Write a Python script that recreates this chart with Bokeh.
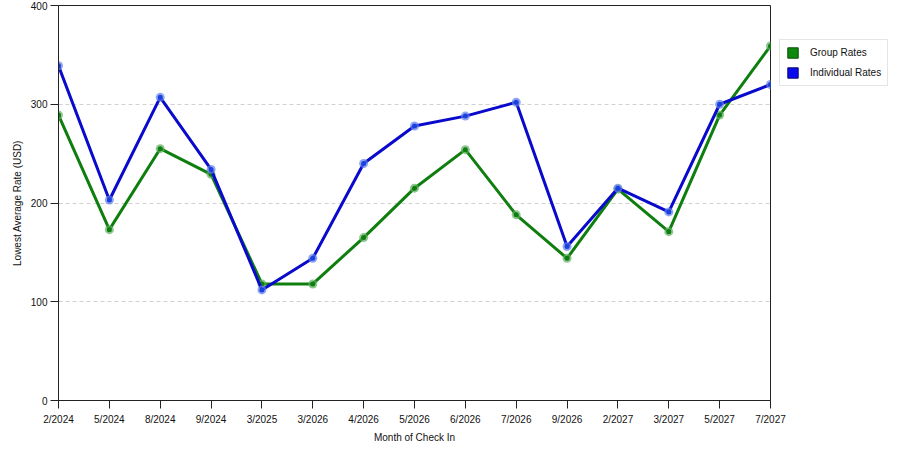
from bokeh.plotting import figure
from bokeh.models import ColumnDataSource, Range1d, FixedTicker, Legend, LegendItem
from bokeh.embed import file_html
from bokeh.resources import INLINE

months = ["2/2024", "5/2024", "8/2024", "9/2024", "3/2025", "3/2026", "4/2026", "5/2026",
          "6/2026", "7/2026", "9/2026", "2/2027", "3/2027", "5/2027", "7/2027"]
group_rates = [289, 173, 255, 229, 118, 118, 165, 215, 254, 188, 144, 214, 171, 289, 359]
individual_rates = [339, 203, 307, 234, 112, 144, 240, 278, 288, 302, 156, 215, 191, 300, 320]
y_ticks = [0, 100, 200, 300, 400]

FONT = "Liberation Sans"
GREEN = "#0e7e0e"
BLUE = "#0a0acc"

idx = list(range(len(months)))
src = ColumnDataSource(dict(x=idx, g=group_rates, b=individual_rates))

p = figure(frame_width=712, frame_height=395, output_backend="svg", toolbar_location=None,
           x_range=Range1d(0, len(months) - 1), y_range=Range1d(0, 400),
           min_border_left=58, min_border_top=5, min_border_right=122, min_border_bottom=8)

p.outline_line_color = "#222222"
p.outline_line_width = 1
p.background_fill_color = "white"
p.border_fill_color = "white"

# lines
p.line("x", "g", source=src, line_color=GREEN, line_width=3)
p.scatter("x", "g", source=src, size=9, fill_color="#5fae5f", line_color=None, fill_alpha=0.7)
p.scatter("x", "g", source=src, size=5, fill_color=GREEN, line_color=None)
p.line("x", "b", source=src, line_color=BLUE, line_width=3)
p.scatter("x", "b", source=src, size=9, fill_color="#5f7fe8", line_color=None, fill_alpha=0.7)
p.scatter("x", "b", source=src, size=5, fill_color="#1a40e0", line_color=None)

# legend proxies (placed outside the visible range)
proxy = ColumnDataSource(dict(left=[-10], right=[-9], top=[-10], bottom=[-11]))
rg = p.quad(left="left", right="right", top="top", bottom="bottom", source=proxy,
            fill_color="#0b8a0b", line_color="#0a4a0a")
rb = p.quad(left="left", right="right", top="top", bottom="bottom", source=proxy,
            fill_color="#0a0af0", line_color="#0a0a6a")
legend = Legend(items=[LegendItem(label="Group Rates", renderers=[rg]),
                       LegendItem(label="Individual Rates", renderers=[rb])],
                location=(9, 314))
legend.glyph_width = 13
legend.glyph_height = 13
legend.label_text_font = FONT
legend.label_text_font_size = "10px"
legend.label_text_color = "#111111"
legend.label_height = 13
legend.spacing = 7
legend.padding = 6
legend.margin = 0
legend.border_line_color = "#cccccc"
legend.label_standoff = 11
p.add_layout(legend, "right")

# axes
p.xaxis.ticker = FixedTicker(ticks=idx)
p.xaxis.major_label_overrides = {i: m for i, m in enumerate(months)}
p.yaxis.ticker = FixedTicker(ticks=y_ticks)
for ax in (p.xaxis, p.yaxis):
    ax.axis_line_color = "#222222"
    ax.major_tick_line_color = "#222222"
    ax.major_tick_out = 8
    ax.major_tick_in = 0
    ax.minor_tick_line_color = None
    ax.major_label_text_font = FONT
    ax.major_label_text_font_size = "10px"
    ax.major_label_text_color = "#111111"
    ax.axis_label_text_font = FONT
    ax.axis_label_text_font_size = "10px"
    ax.axis_label_text_font_style = "normal"
    ax.axis_label_text_color = "#111111"
p.xaxis.axis_label = "Month of Check In"
p.yaxis.axis_label = "Lowest Average Rate (USD)"
p.xaxis.axis_label_standoff = 4
p.yaxis.axis_label_standoff = 5
p.xaxis.major_label_standoff = 5
p.yaxis.major_label_standoff = 3

p.xgrid.grid_line_color = None
p.ygrid.grid_line_color = "#d0d0d0"
p.ygrid.grid_line_dash = "4 3"

open("out.html", "w").write(file_html(p, INLINE))
